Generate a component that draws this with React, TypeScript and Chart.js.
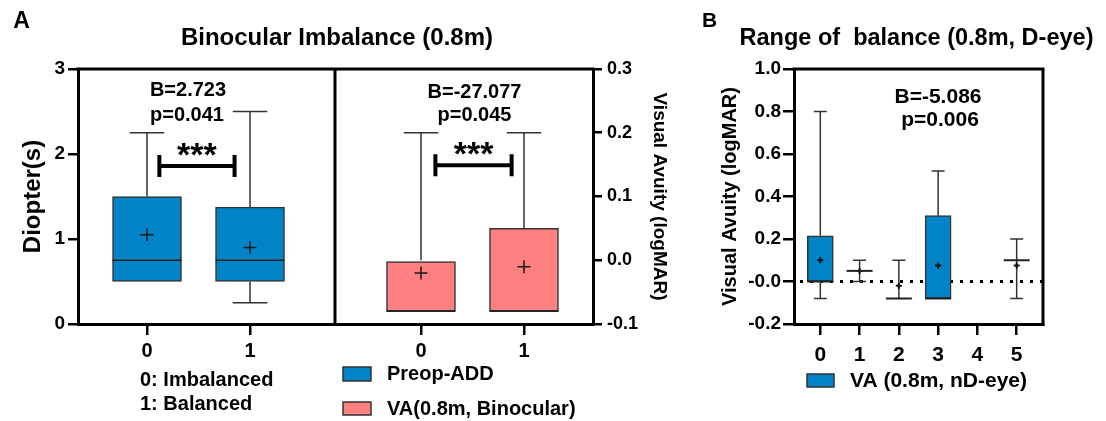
import React, { useEffect, useRef } from 'react';
import { Chart, registerables } from 'chart.js';

Chart.register(...registerables);

const FONT = "'Liberation Sans', Arial, Helvetica, sans-serif";
Chart.defaults.font.family = FONT;
Chart.defaults.color = '#000';

// ---------------- Panel A data ----------------
const A_GROUPS = ['0', '1'];
const PREOP_MIN = [0.5, 0.25];
const PREOP_Q1 = [0.5, 0.5];
const PREOP_MEDIAN = [0.75, 0.75];
const PREOP_Q3 = [1.5, 1.375];
const PREOP_MAX = [2.25, 2.5];
const PREOP_MEAN = [1.05, 0.9];

const VABIN_MIN = [-0.08, -0.08];
const VABIN_Q1 = [-0.08, -0.08];
const VABIN_MEDIAN = [-0.08, -0.08];
const VABIN_Q3 = [0.0, 0.05];
const VABIN_MAX = [0.2, 0.2];
const VABIN_MEAN = [-0.02, -0.01];

const A_LEFT_STATS = ['B=2.723', 'p=0.041'];
const A_RIGHT_STATS = ['B=-27.077', 'p=0.045'];
const A_SIG = '***';
const A_GROUP_NOTES = ['0: Imbalanced', '1: Balanced'];

// ---------------- Panel B data ----------------
const B_CATS = ['0', '1', '2', '3', '4', '5'];
const VAND_MIN = [-0.08, 0.0, -0.08, -0.08, null, -0.08];
const VAND_Q1 = [0.0, 0.05, -0.08, -0.08, null, 0.1];
const VAND_MEDIAN = [0.0, 0.05, -0.08, -0.08, null, 0.1];
const VAND_Q3 = [0.215, 0.05, -0.08, 0.31, null, 0.1];
const VAND_MAX = [0.8, 0.1, 0.1, 0.52, null, 0.2];
const VAND_MEAN = [0.1, 0.05, -0.02, 0.075, null, 0.075];
const B_STATS = ['B=-5.086', 'p=0.006'];

// ---------------- styling / layout ----------------
const BLUE = '#0084C7';
const PINK = '#FF8080';
const EDGE = '#333333';
const A_SHIFT = 2.66; // x offset of the right-hand group in panel A
const A_DIVIDER = 1.825;

function makeBoxes(xs: number[], q1: (number | null)[], q3: (number | null)[], mn: (number | null)[], med: (number | null)[], mx: (number | null)[]) {
  const data: any[] = [];
  const stats: any[] = [];
  xs.forEach((x, i) => {
    if (q1[i] == null) return;
    data.push({ x, y: [q1[i], q3[i]] });
    stats.push({ min: mn[i], q1: q1[i], med: med[i], q3: q3[i], max: mx[i] });
  });
  return { data, stats };
}
function makeMeans(xs: number[], means: (number | null)[]) {
  return xs.map((x, i) => (means[i] == null ? null : { x, y: means[i] })).filter(Boolean);
}

const boxPlotPlugin = {
  id: 'boxPlot',
  beforeDatasetsDraw(chart: any, _a: any, opts: any) {
    const { ctx, chartArea: ca, scales } = chart;
    ctx.save();
    if (opts.zeroAxis) {
      const y = scales[opts.zeroAxis].getPixelForValue(0);
      ctx.setLineDash([3, 7]);
      ctx.lineWidth = 3;
      ctx.strokeStyle = '#000';
      ctx.beginPath();
      ctx.moveTo(ca.left + 6, y);
      ctx.lineTo(ca.right, y);
      ctx.stroke();
      ctx.setLineDash([]);
    }
    ctx.strokeStyle = EDGE;
    ctx.lineWidth = 1.5;
    chart.data.datasets.forEach((ds: any, i: number) => {
      if (!ds.stats) return;
      const meta = chart.getDatasetMeta(i);
      const ys = scales[ds.yAxisID];
      meta.data.forEach((el: any, j: number) => {
        const s = ds.stats[j];
        if (!s) return;
        const x = el.x;
        const cap = el.width / 4;
        const seg = (from: number, to: number) => {
          if (to === from || to == null) return;
          const y0 = ys.getPixelForValue(from);
          const y1 = ys.getPixelForValue(to);
          ctx.beginPath();
          ctx.moveTo(x, y0);
          ctx.lineTo(x, y1);
          ctx.moveTo(x - cap, y1);
          ctx.lineTo(x + cap, y1);
          ctx.stroke();
        };
        seg(s.q3, s.max);
        seg(s.q1, s.min);
      });
    });
    ctx.restore();
  },
  afterDatasetsDraw(chart: any, _a: any, opts: any) {
    const { ctx, scales } = chart;
    ctx.save();
    ctx.strokeStyle = '#222';
    ctx.lineWidth = opts.medianWidth || 1.5;
    chart.data.datasets.forEach((ds: any, i: number) => {
      if (!ds.stats) return;
      const meta = chart.getDatasetMeta(i);
      const ys = scales[ds.yAxisID];
      meta.data.forEach((el: any, j: number) => {
        const s = ds.stats[j];
        if (!s) return;
        const y = ys.getPixelForValue(s.med);
        const h = el.width / 2;
        ctx.beginPath();
        ctx.moveTo(el.x - h, y);
        ctx.lineTo(el.x + h, y);
        ctx.stroke();
      });
    });
    ctx.restore();
  },
  afterDraw(chart: any, _a: any, opts: any) {
    const { ctx, chartArea: ca, scales } = chart;
    ctx.save();
    // frame
    ctx.strokeStyle = '#000';
    ctx.lineWidth = 3;
    ctx.lineCap = 'square';
    ctx.beginPath();
    ctx.moveTo(ca.left, ca.top);
    ctx.lineTo(ca.right, ca.top);
    if (opts.rightBorder) {
      ctx.moveTo(ca.right, ca.top);
      ctx.lineTo(ca.right, ca.bottom);
    }
    if (opts.divider != null) {
      const x = scales.x.getPixelForValue(opts.divider);
      ctx.moveTo(x, ca.top);
      ctx.lineTo(x, ca.bottom);
    }
    ctx.stroke();
    ctx.lineCap = 'butt';
    // brackets
    (opts.brackets || []).forEach((b: any) => {
      const x1 = scales.x.getPixelForValue(b.x1);
      const x2 = scales.x.getPixelForValue(b.x2);
      const y = scales[b.axis].getPixelForValue(b.y);
      ctx.lineWidth = 4;
      ctx.beginPath();
      ctx.moveTo(x1, y);
      ctx.lineTo(x2, y);
      ctx.moveTo(x1, y - 11);
      ctx.lineTo(x1, y + 11);
      ctx.moveTo(x2, y - 11);
      ctx.lineTo(x2, y + 11);
      ctx.stroke();
      ctx.fillStyle = '#000';
      ctx.font = `bold ${b.size}px ${FONT}`;
      ctx.textAlign = 'center';
      ctx.textBaseline = 'alphabetic';
      ctx.fillText(b.text, (x1 + x2) / 2, y + b.dy);
    });
    // texts
    (opts.texts || []).forEach((t: any) => {
      ctx.fillStyle = '#000';
      ctx.font = `bold ${t.size}px ${FONT}`;
      ctx.textAlign = t.align || 'center';
      ctx.textBaseline = 'middle';
      ctx.fillText(t.text, t.x, t.y);
    });
    // legend swatches
    (opts.legend || []).forEach((l: any) => {
      const ds = chart.data.datasets[l.ds];
      ctx.fillStyle = ds.backgroundColor;
      ctx.fillRect(l.x, l.y, l.w, l.h);
      ctx.strokeStyle = EDGE;
      ctx.lineWidth = 1.5;
      ctx.strokeRect(l.x, l.y, l.w, l.h);
      ctx.fillStyle = '#000';
      ctx.font = `bold ${l.size}px ${FONT}`;
      ctx.textAlign = 'left';
      ctx.textBaseline = 'middle';
      ctx.fillText(ds.label, l.tx, l.y + l.h / 2 + 0.5);
    });
    ctx.restore();
  },
};

const axisGrid = (tickLength: number) => ({
  drawOnChartArea: false,
  drawTicks: true,
  tickLength,
  color: '#000',
  lineWidth: 2.5,
  offset: false,
});
const axisBorder = { display: true, color: '#000', width: 3 };

function buildA(): any {
  const leftX = A_GROUPS.map((_, i) => i);
  const rightX = A_GROUPS.map((_, i) => i + A_SHIFT);
  const tickPos = [...leftX, ...rightX];
  const tickLabels = [...A_GROUPS, ...A_GROUPS];
  const preop = makeBoxes(leftX, PREOP_Q1, PREOP_Q3, PREOP_MIN, PREOP_MEDIAN, PREOP_MAX);
  const vabin = makeBoxes(rightX, VABIN_Q1, VABIN_Q3, VABIN_MIN, VABIN_MEDIAN, VABIN_MAX);
  const meanStyle = {
    type: 'scatter',
    pointStyle: 'cross',
    pointRadius: 6.5,
    pointBorderColor: '#1a1a1a',
    pointBorderWidth: 1.5,
    showLine: false,
    order: 0,
  };
  return {
    type: 'bar',
    data: {
      datasets: [
        { ...meanStyle, label: 'Preop-ADD mean', data: makeMeans(leftX, PREOP_MEAN), yAxisID: 'y' },
        { ...meanStyle, label: 'VA mean', data: makeMeans(rightX, VABIN_MEAN), yAxisID: 'y2' },
        {
          type: 'bar', label: 'Preop-ADD', data: preop.data, stats: preop.stats, yAxisID: 'y',
          backgroundColor: BLUE, borderColor: EDGE, borderWidth: 1.5, borderSkipped: false,
          barThickness: 69, grouped: false, order: 1,
        },
        {
          type: 'bar', label: 'VA(0.8m, Binocular)', data: vabin.data, stats: vabin.stats, yAxisID: 'y2',
          backgroundColor: PINK, borderColor: EDGE, borderWidth: 1.5, borderSkipped: false,
          barThickness: 69, grouped: false, order: 1,
        },
      ],
    },
    options: {
      responsive: false,
      animation: false,
      devicePixelRatio: 1,
      layout: { padding: { top: 69, left: 0, right: 0, bottom: 0 } },
      plugins: {
        legend: { display: false },
        tooltip: { enabled: false },
        title: { display: false },
        boxPlot: {
          divider: A_DIVIDER,
          brackets: [
            { x1: 0.12, x2: 0.85, y: 1.86, axis: 'y', text: A_SIG, size: 34, dy: 0 },
            { x1: 2.8, x2: 3.54, y: 0.149, axis: 'y2', text: A_SIG, size: 34, dy: 0 },
          ],
          texts: [
            { text: 'A', x: 21.5, y: 21.5, size: 23 },
            { text: 'Binocular Imbalance (0.8m)', x: 337, y: 38.5, size: 24 },
            { text: A_LEFT_STATS[0], x: 188, y: 90, size: 20 },
            { text: A_LEFT_STATS[1], x: 187, y: 115, size: 20 },
            { text: A_RIGHT_STATS[0], x: 474.5, y: 92, size: 20 },
            { text: A_RIGHT_STATS[1], x: 474.5, y: 115.5, size: 20 },
            { text: A_GROUP_NOTES[0], x: 140, y: 380.5, size: 20, align: 'left' },
            { text: A_GROUP_NOTES[1], x: 140, y: 404.5, size: 20, align: 'left' },
          ],
          legend: [
            { ds: 2, x: 343, y: 367, w: 28, h: 14, tx: 387, size: 20 },
            { ds: 3, x: 343, y: 402, w: 28, h: 13, tx: 387, size: 20 },
          ],
        },
      },
      scales: {
        x: {
          type: 'linear',
          min: -0.67,
          max: 4.33,
          offset: false,
          afterBuildTicks: (s: any) => { s.ticks = tickPos.map((v) => ({ value: v })); },
          afterFit: (s: any) => { s.height = 97; },
          ticks: {
            autoSkip: false, maxRotation: 0, padding: 4, color: '#000',
            font: { size: 20, weight: 'bold' },
            callback: (_v: any, i: number) => tickLabels[i],
          },
          grid: axisGrid(11),
          border: axisBorder,
        },
        y: {
          type: 'linear',
          position: 'left',
          min: 0,
          max: 3,
          afterFit: (s: any) => { s.width = 78; },
          ticks: { stepSize: 1, padding: 3, color: '#000', font: { size: 19, weight: 'bold' } },
          grid: axisGrid(10),
          border: axisBorder,
          title: { display: true, text: 'Diopter(s)', color: '#000', font: { size: 24, weight: 'bold' }, padding: { top: 18.6, bottom: 0 } },
        },
        y2: {
          type: 'linear',
          position: 'right',
          min: -0.1,
          max: 0.3,
          afterFit: (s: any) => { s.width = 81; },
          ticks: {
            stepSize: 0.1, padding: 5, color: '#000', font: { size: 18, weight: 'bold' },
            callback: (v: any) => Number(v).toFixed(1),
          },
          grid: axisGrid(9),
          border: axisBorder,
          title: { display: true, text: 'Visual Avuity (logMAR)', color: '#000', font: { size: 19, weight: 'bold' }, padding: { top: 3, bottom: 0 } },
        },
      },
    },
    plugins: [boxPlotPlugin],
  };
}

function buildB(): any {
  const xs = B_CATS.map((_, i) => i);
  const boxes = makeBoxes(xs, VAND_Q1, VAND_Q3, VAND_MIN, VAND_MEDIAN, VAND_MAX);
  return {
    type: 'bar',
    data: {
      datasets: [
        {
          type: 'scatter', label: 'VA mean', data: makeMeans(xs, VAND_MEAN), yAxisID: 'y',
          pointStyle: 'cross', pointRadius: 3, pointBorderColor: '#111', pointBorderWidth: 2, showLine: false, order: 0,
        },
        {
          type: 'bar', label: 'VA (0.8m, nD-eye)', data: boxes.data, stats: boxes.stats, yAxisID: 'y',
          backgroundColor: BLUE, borderColor: EDGE, borderWidth: 1.5, borderSkipped: false,
          barThickness: 26, grouped: false, order: 1,
        },
      ],
    },
    options: {
      responsive: false,
      animation: false,
      devicePixelRatio: 1,
      layout: { padding: { top: 69, left: 0, right: 63, bottom: 0 } },
      plugins: {
        legend: { display: false },
        tooltip: { enabled: false },
        title: { display: false },
        boxPlot: {
          zeroAxis: 'y',
          rightBorder: true,
          medianWidth: 2,
          texts: [
            { text: 'B', x: 9.5, y: 21.5, size: 21 },
            { text: 'Range of  balance (0.8m, D-eye)', x: 216.5, y: 38.5, size: 23.5 },
            { text: B_STATS[0], x: 238, y: 97, size: 21 },
            { text: B_STATS[1], x: 240, y: 120, size: 21 },
          ],
          legend: [{ ds: 1, x: 107, y: 374, w: 27, h: 13, tx: 150, size: 21 }],
        },
      },
      scales: {
        x: {
          type: 'linear',
          min: -0.67,
          max: 5.67,
          offset: false,
          afterBuildTicks: (s: any) => { s.ticks = xs.map((v) => ({ value: v })); },
          afterFit: (s: any) => { s.height = 97; },
          ticks: {
            autoSkip: false, maxRotation: 0, padding: 8, color: '#000',
            font: { size: 21, weight: 'bold' },
            callback: (_v: any, i: number) => B_CATS[i],
          },
          grid: axisGrid(11),
          border: axisBorder,
        },
        y: {
          type: 'linear',
          position: 'left',
          min: -0.2,
          max: 1.0,
          afterFit: (s: any) => { s.width = 94; },
          ticks: {
            stepSize: 0.2, padding: 2, color: '#000', font: { size: 19, weight: 'bold' },
            callback: (v: any) => Number(v).toFixed(1),
          },
          grid: axisGrid(11),
          border: axisBorder,
          title: { display: true, text: 'Visual Avuity (logMAR)', color: '#000', font: { size: 20, weight: 'bold' }, padding: { top: 18, bottom: 0 } },
        },
      },
    },
    plugins: [boxPlotPlugin],
  };
}

export default function App() {
  const aRef = useRef<HTMLCanvasElement>(null);
  const bRef = useRef<HTMLCanvasElement>(null);
  useEffect(() => {
    const a = new Chart(aRef.current as HTMLCanvasElement, buildA());
    const b = new Chart(bRef.current as HTMLCanvasElement, buildB());
    return () => {
      a.destroy();
      b.destroy();
    };
  }, []);
  return (
    <div style={{ position: 'absolute', left: 0, top: 0, width: 1106, height: 421, background: '#fff', overflow: 'hidden' }}>
      <canvas ref={aRef} width={674} height={421} style={{ position: 'absolute', left: 0, top: 0, width: 674, height: 421 }} />
      <canvas ref={bRef} width={406} height={421} style={{ position: 'absolute', left: 700, top: 0, width: 406, height: 421 }} />
    </div>
  );
}
